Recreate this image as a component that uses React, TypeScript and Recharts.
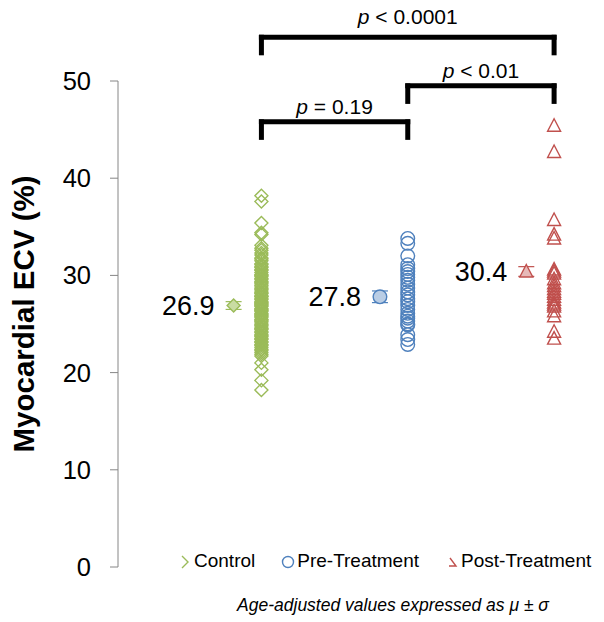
import React from 'react';
import { ScatterChart, Scatter, XAxis, YAxis, ReferenceLine, ErrorBar, LabelList, Legend } from 'recharts';

const groups = ['Control', 'Pre-Treatment', 'Post-Treatment'];
const groupPos = [1, 2, 3];
const colors = ['#9BBB59', '#4F81BD', '#C0504D'];
const meanFills = ['#C9DCA3', '#B9CDE5', '#E6B9B8'];

const controlEcv = [38.2, 37.6, 35.4, 34.4, 34.2, 33.1, 32.8, 32.6, 32.3, 32.1, 31.8, 31.7, 31.5, 31.2, 31.1, 30.9, 30.8, 30.6,
  30.5, 30.3, 30.1, 30.0, 29.9, 29.7, 29.6, 29.4, 29.3, 29.2, 29.0, 28.9, 28.7, 28.6, 28.5, 28.3, 28.2, 28.1, 27.9, 27.8,
  27.8, 27.6, 27.5, 27.3, 27.2, 27.1, 27.0, 26.9, 26.8, 26.6, 26.5, 26.4, 26.3, 26.1, 26.0, 25.9, 25.8, 25.7, 25.5, 25.4,
  25.3, 25.2, 25.0, 24.9, 24.8, 24.6, 24.5, 24.4, 24.2, 24.1, 23.9, 23.8, 23.7, 23.5, 23.4, 23.2, 23.1, 22.9, 22.8, 22.6,
  22.4, 22.3, 22.1, 21.9, 21.7, 21.0, 20.3, 19.2, 18.2];
const preEcv = [33.8, 33.3, 32.0, 31.1, 30.7, 30.4, 30.1, 29.8, 29.5, 29.1, 28.7, 28.3, 28.0, 27.6, 27.3, 26.9, 26.5,
  26.1, 25.8, 25.6, 25.3, 25.0, 24.9, 23.9, 23.4, 22.9];
const postEcv = [45.4, 42.7, 35.7, 34.2, 33.8, 30.6, 30.4, 30.2, 29.6, 29.2, 28.9, 28.6, 28.3, 28.1, 27.8, 27.5, 27.2,
  27.0, 26.8, 26.3, 25.8, 24.2, 23.5];
const meanEcv = [26.9, 27.8, 30.4];
const meanErr = [0.4, 0.6, 0.5];
const yTicks = [0, 10, 20, 30, 40, 50];
const comparisons = [
  { from: 1, to: 3, p: '< 0.0001' },
  { from: 2, to: 3, p: '< 0.01' },
  { from: 1, to: 2, p: '= 0.19' },
];

// bracket layout (value units): bar height, drop, label gap px
const bracketLayout = [
  { y: 54.5, drop: 1.6, gap: 13 },
  { y: 49.5, drop: 1.6, gap: 8 },
  { y: 45.8, drop: 1.6, gap: 8 },
];

const font = '"Liberation Sans", Arial, sans-serif';
const MEAN_SHIFT = -0.19;

const seriesData = [controlEcv, preEcv, postEcv].map((vals, i) => vals.map(v => ({ x: groupPos[i], y: v })));
const meanData = meanEcv.map((m, i) => [{ x: groupPos[i] + MEAN_SHIFT, y: m, err: meanErr[i] }]);

function marker(kind: number, stroke: string, fill: string) {
  return (p: any) => {
    const { cx, cy } = p;
    if (cx == null || cy == null) return null;
    if (kind === 0) {
      const r = 6.5;
      return <path d={`M${cx},${cy - r}L${cx + r},${cy}L${cx},${cy + r}L${cx - r},${cy}Z`} stroke={stroke} strokeWidth={1.4} fill={fill} />;
    }
    if (kind === 1) return <circle cx={cx} cy={cy} r={6.8} stroke={stroke} strokeWidth={1.4} fill={fill} />;
    return <path d={`M${cx},${cy - 7}L${cx + 6.5},${cy + 5.5}L${cx - 6.5},${cy + 5.5}Z`} stroke={stroke} strokeWidth={1.4} fill={fill} />;
  };
}

const meanLabel = (p: any) => {
  const { x, y, width, height, value } = p;
  const cx = x + (width || 0) / 2;
  const cy = y + (height || 0) / 2;
  return <text x={cx - 19} y={cy + 9.5} textAnchor="end" fontSize={27} fontFamily={font} fill="#000">{Number(value).toFixed(1)}</text>;
};

const bracketLabel = (text: string, gap: number) => (p: any) => {
  const vb = p.viewBox || {};
  return (
    <text x={vb.x + (vb.width || 0) / 2} y={vb.y - gap} textAnchor="middle" fontSize={21} fontFamily={font} fill="#000">
      <tspan fontStyle="italic">p</tspan> {text}
    </text>
  );
};

const legendContent = () => (
  <div style={{ display: 'flex', alignItems: 'center', fontFamily: font, fontSize: 19, color: '#000', whiteSpace: 'nowrap' }}>
    {groups.map((g, i) => (
      <div key={g} style={{ display: 'flex', alignItems: 'center', marginRight: 26 }}>
        <svg width={14} height={16} style={{ marginRight: 2 }}>
          {i === 0 && <path d="M4,3L10,9L4,15" stroke={colors[0]} strokeWidth={1.4} fill="none" />}
          {i === 1 && <circle cx={7} cy={9} r={5.5} stroke={colors[1]} strokeWidth={1.4} fill="none" />}
          {i === 2 && <path d="M5,5L11,13L4,13" stroke={colors[2]} strokeWidth={1.4} fill="none" />}
        </svg>
        <span>{g}</span>
      </div>
    ))}
  </div>
);

const yLabel = (p: any) => {
  const vb = p.viewBox;
  const cx = 23;
  const cy = vb.y + vb.height / 2 - 10;
  return (
    <text x={cx} y={cy} transform={`rotate(-90 ${cx} ${cy})`} textAnchor="middle" dominantBaseline="central"
      fontSize={29.5} fontWeight="bold" fontFamily={font} fill="#000">Myocardial ECV (%)</text>
  );
};

export default function App() {
  return (
    <div style={{ position: 'absolute', left: 0, top: 0, width: 604, height: 622, background: '#fff' }}>
      <ScatterChart width={604} height={622} margin={{ top: 81, right: 6, bottom: 55, left: 0 }}>
        <XAxis type="number" dataKey="x" domain={[0.02, 3.3]} hide height={0} />
        <YAxis type="number" dataKey="y" domain={[0, 50]} ticks={yTicks} width={118} stroke="#868686"
          tick={{ fill: '#000', fontSize: 25.5, fontFamily: font }} tickSize={8} tickMargin={19} label={yLabel} />
        <Legend verticalAlign="middle" align="center" layout="horizontal" content={legendContent}
          wrapperStyle={{ top: 550, left: 178, width: 430 }} />
        {comparisons.map((c, i) => {
          const b = bracketLayout[i];
          const common = { stroke: '#000', strokeWidth: 5, ifOverflow: 'visible' as const, strokeLinecap: 'square' as const };
          return (
            <React.Fragment key={i}>
              <ReferenceLine {...common} segment={[{ x: c.from, y: b.y }, { x: c.to, y: b.y }]} label={bracketLabel(c.p, b.gap)} />
              <ReferenceLine {...common} segment={[{ x: c.from, y: b.y }, { x: c.from, y: b.y - b.drop }]} />
              <ReferenceLine {...common} segment={[{ x: c.to, y: b.y }, { x: c.to, y: b.y - b.drop }]} />
            </React.Fragment>
          );
        })}
        {seriesData.map((d, i) => (
          <Scatter key={groups[i]} name={groups[i]} data={d} isAnimationActive={false}
            shape={marker(i, colors[i], 'none')} />
        ))}
        {meanData.map((d, i) => (
          <Scatter key={'m' + i} name={groups[i] + ' mean'} legendType="none" data={d} isAnimationActive={false}
            shape={marker(i, colors[i], meanFills[i])}>
            <ErrorBar dataKey="err" direction="y" width={8} stroke={colors[i]} strokeWidth={1.2} />
            <LabelList dataKey="y" content={meanLabel} />
          </Scatter>
        ))}
      </ScatterChart>
      <div style={{ position: 'absolute', left: 0, width: 604, top: 595, paddingLeft: 182, boxSizing: 'border-box', textAlign: 'center',
        fontFamily: font, fontStyle: 'italic', fontSize: 17.5, color: '#000' }}>
        Age-adjusted values expressed as μ ± σ
      </div>
    </div>
  );
}
